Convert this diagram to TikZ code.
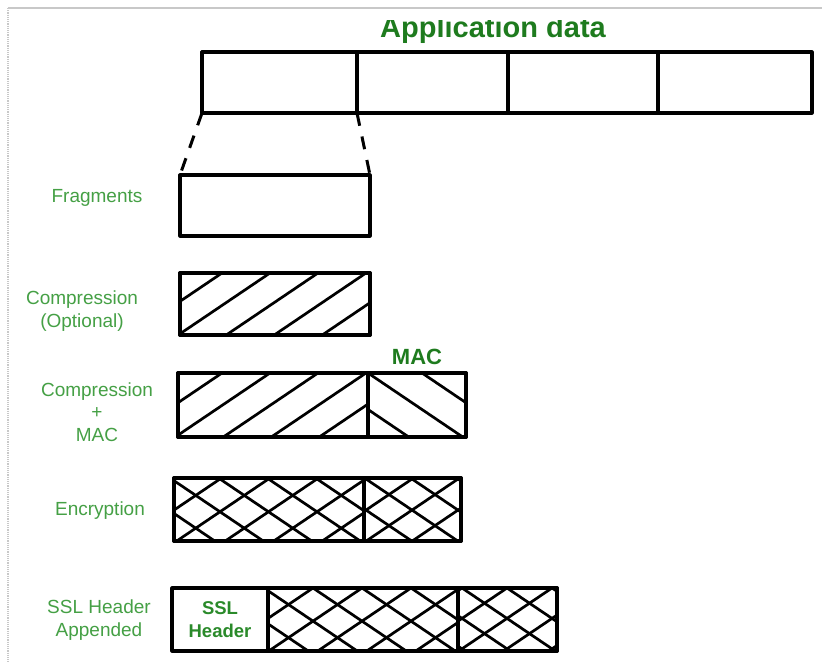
\documentclass[tikz,border=0pt]{standalone}
\usepackage{fontspec}
\setmainfont{Liberation Sans}
\usetikzlibrary{calc}
\definecolor{titlegreen}{HTML}{1E7B1E}
\definecolor{labelgreen}{HTML}{45A045}
\definecolor{boldgreen}{HTML}{2A8A2A}
\definecolor{framegray}{HTML}{C8C8C8}
\tikzset{
  box/.style={draw=black, line width=3.2pt, inner sep=0pt, outer sep=0pt, line join=round},
  hatchln/.style={draw=black, line width=2.7pt},
  lbl/.style={text=labelgreen, align=center, inner sep=0pt, font=\fontsize{19}{23}\selectfont},
  boldlbl/.style={text=boldgreen, align=center, inner sep=0pt, font=\bfseries\fontsize{18.5}{23}\selectfont},
  conn/.style={draw=black, line width=3pt, dash pattern=on 13pt off 11pt},
}
% #1 node, #2 top y, #3 period, #4 x of a line at the top edge, #5 direction (1 = /, -1 = \)
\newcommand\hatchlines[5]{%
  \begin{scope}
    \clip (#1.south west) rectangle (#1.north east);
    \foreach \k in {-8,...,8}{
      \draw[hatchln] ({#4+\k*#3+#5*1.48*15}, #2-15) -- ++({-#5*1.48*100}, 100);
    }
  \end{scope}}
\begin{document}
\begin{tikzpicture}[x=1pt,y=-1pt]
\useasboundingbox (0,0) rectangle (822,662);
\fill[white] (0,0) rectangle (822,662);
% frame
\draw[framegray, line width=1.2pt] (8,8) -- (822,8);
\draw[framegray, line width=1.2pt, densely dotted] (8,8) -- (8,662);
% title (cut at the top as in the screenshot)
\begin{scope}
  \clip (0,20.5) rectangle (822,60);
  \node[anchor=base, inner sep=0pt, text=titlegreen, font=\bfseries\fontsize{29}{33}\selectfont] (title) at (493,37) {Application data};
\end{scope}
% application data row
\node[box, minimum width=155pt, minimum height=61pt] (a1) at (279.5,82.5) {};
\node[box, minimum width=151pt, minimum height=61pt] (a2) at (432.5,82.5) {};
\node[box, minimum width=150pt, minimum height=61pt] (a3) at (583,82.5) {};
\node[box, minimum width=154pt, minimum height=61pt] (a4) at (735,82.5) {};
% fragments
\node[box, minimum width=190pt, minimum height=61pt] (frag) at (275,205.5) {};
\draw[conn] (a1.south west) -- (frag.north west);
\draw[conn] (a1.south east) -- (frag.north east);
% compression
\node[box, minimum width=190pt, minimum height=62pt] (comp) at (275,304) {};
\hatchlines{comp}{273}{48}{222}{1}
\node[box, minimum width=190pt, minimum height=62pt] (compb) at (275,304) {};
% compression + MAC
\node[box, minimum width=190pt, minimum height=64pt] (cm1) at (273,405) {};
\node[box, minimum width=98pt, minimum height=64pt] (cm2) at (417,405) {};
\hatchlines{cm1}{373}{48}{222}{1}
\hatchlines{cm2}{373}{54}{368}{-1}
\node[box, minimum width=190pt, minimum height=64pt] (cm1b) at (273,405) {};
\node[box, minimum width=98pt, minimum height=64pt] (cm2b) at (417,405) {};
% encryption
\node[box, minimum width=190pt, minimum height=63pt] (e1) at (269,509.5) {};
\node[box, minimum width=97pt, minimum height=63pt] (e2) at (412.5,509.5) {};
\hatchlines{e1}{479}{48.5}{220}{1}
\hatchlines{e1}{479}{48.5}{220}{-1}
\hatchlines{e2}{479}{46}{366}{1}
\hatchlines{e2}{479}{46}{366}{-1}
\node[box, minimum width=190pt, minimum height=63pt] (e1b) at (269,509.5) {};
\node[box, minimum width=97pt, minimum height=63pt] (e2b) at (412.5,509.5) {};
% SSL header appended
\node[box, minimum width=96pt, minimum height=63pt, boldlbl] (s0) at (220,619.5) {SSL\\Header};
\node[box, minimum width=190pt, minimum height=63pt] (s1) at (363,619.5) {};
\node[box, minimum width=99pt, minimum height=63pt] (s2) at (507.5,619.5) {};
\hatchlines{s1}{588}{49}{313}{1}
\hatchlines{s1}{588}{49}{313}{-1}
\hatchlines{s2}{588}{45}{507}{1}
\hatchlines{s2}{588}{45}{507}{-1}
\node[box, minimum width=190pt, minimum height=63pt] (s1b) at (363,619.5) {};
\node[box, minimum width=99pt, minimum height=63pt] (s2b) at (507.5,619.5) {};
% labels
\node[lbl] (lfrag) at (97,198) {Fragments};
\node[lbl] (lcomp) at (82,311.5) {Compression\\(Optional)};
\node[lbl, font=\fontsize{19}{22.5}\selectfont] (lcm) at (97,412) {Compression\\+\\MAC};
\node[lbl] (lenc) at (100,511) {Encryption};
\node[lbl] (lssl) at (99,620.5) {SSL Header\\Appended};
\node[inner sep=0pt, text=titlegreen, font=\bfseries\fontsize{22}{26}\selectfont] (mac) at (417,357) {MAC};
\end{tikzpicture}
\end{document}
